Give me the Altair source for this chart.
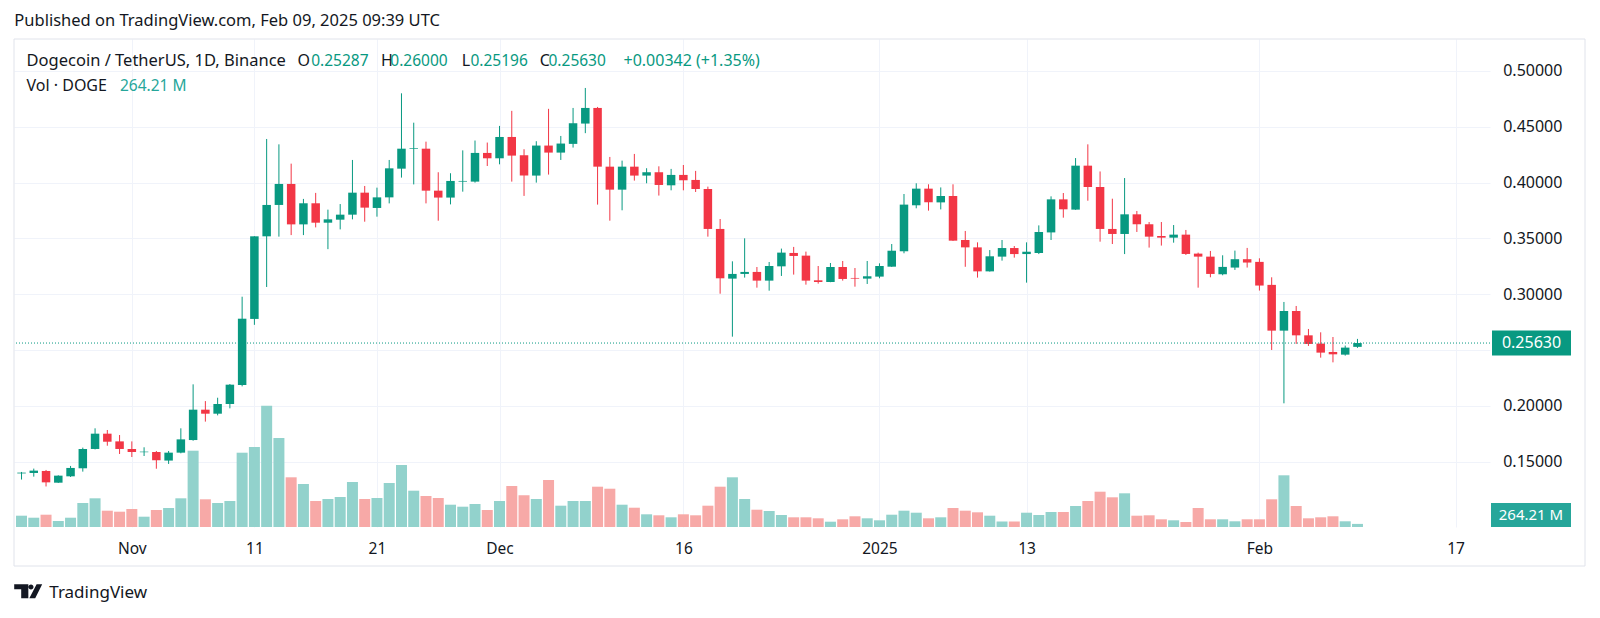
import altair as alt
import pandas as pd

FONT = "Noto Sans"
INK = "#131722"
UP = "#089981"
DOWN = "#f23645"
VOL_UP = "#92d2cc"
VOL_DOWN = "#f7a9a7"
GRID = "#f0f3fa"

dates = pd.date_range("2024-10-23", "2025-02-09", freq="D").strftime("%Y-%m-%d").tolist()

opens = [0.1395, 0.1399, 0.1417, 0.1312, 0.1369, 0.1441, 0.1614, 0.1751, 0.1682, 0.1614,
         0.1585, 0.1587, 0.1510, 0.1581, 0.1694, 0.1966, 0.1930, 0.2017, 0.2187, 0.2779,
         0.3519, 0.3800, 0.3988, 0.3626, 0.3815, 0.3641, 0.3668, 0.3713, 0.3910, 0.3773,
         0.3868, 0.4125, 0.4304, 0.4304, 0.3928, 0.3866, 0.4009, 0.4009, 0.4266, 0.4218,
         0.4409, 0.4245, 0.4063, 0.4332, 0.4269, 0.4347, 0.4529, 0.4669, 0.4143, 0.3937,
         0.4143, 0.4063, 0.4093, 0.3976, 0.4069, 0.4024, 0.3943, 0.3585, 0.3140, 0.3182,
         0.3200, 0.3122, 0.3250, 0.3370, 0.3346, 0.3125, 0.3110, 0.3244, 0.3146, 0.3140,
         0.3158, 0.3247, 0.3385, 0.3797, 0.3946, 0.3823, 0.3880, 0.3486, 0.3420, 0.3205,
         0.3337, 0.3414, 0.3360, 0.3369, 0.3554, 0.3850, 0.3758, 0.4152, 0.3961, 0.3585,
         0.3540, 0.3716, 0.3627, 0.3522, 0.3507, 0.3534, 0.3364, 0.3337, 0.3179, 0.3239,
         0.3314, 0.3290, 0.3084, 0.2674, 0.2850, 0.2632, 0.2558, 0.2483, 0.2459, 0.25287]

highs = [0.1408, 0.1438, 0.1426, 0.1378, 0.1462, 0.1626, 0.1799, 0.1784, 0.1739, 0.1682,
         0.1629, 0.1596, 0.1596, 0.1799, 0.2193, 0.2043, 0.2073, 0.2196, 0.2978, 0.3520,
         0.4391, 0.4343, 0.4170, 0.3854, 0.3908, 0.3758, 0.3808, 0.4203, 0.3970, 0.3955,
         0.4203, 0.4800, 0.4537, 0.4367, 0.4093, 0.4084, 0.4289, 0.4377, 0.4359, 0.4508,
         0.4643, 0.4299, 0.4371, 0.4661, 0.4418, 0.4669, 0.4848, 0.4678, 0.4230, 0.4197,
         0.4257, 0.4129, 0.4146, 0.4123, 0.4158, 0.4105, 0.3964, 0.3674, 0.3295, 0.3501,
         0.3244, 0.3289, 0.3409, 0.3424, 0.3382, 0.3253, 0.3280, 0.3298, 0.3235, 0.3298,
         0.3277, 0.3450, 0.3898, 0.3994, 0.3985, 0.3957, 0.3985, 0.3567, 0.3465, 0.3396,
         0.3486, 0.3432, 0.3465, 0.3617, 0.3877, 0.3907, 0.4220, 0.4343, 0.4100, 0.3856,
         0.4041, 0.3746, 0.3647, 0.3647, 0.3620, 0.3576, 0.3373, 0.3388, 0.3349, 0.3391,
         0.3415, 0.3322, 0.3152, 0.2931, 0.2895, 0.2689, 0.2659, 0.2617, 0.2540, 0.26000]

lows = [0.1340, 0.1366, 0.1278, 0.1310, 0.1363, 0.1411, 0.1610, 0.1643, 0.1569, 0.1542,
        0.1551, 0.1437, 0.1480, 0.1575, 0.1688, 0.1859, 0.1915, 0.1978, 0.2175, 0.2726,
        0.3065, 0.3516, 0.3530, 0.3530, 0.3599, 0.3404, 0.3581, 0.3671, 0.3650, 0.3695,
        0.3814, 0.4045, 0.3984, 0.3814, 0.3659, 0.3805, 0.3919, 0.4000, 0.4149, 0.4164,
        0.4009, 0.3881, 0.4000, 0.4072, 0.4203, 0.4314, 0.4443, 0.3803, 0.3659, 0.3752,
        0.4018, 0.3994, 0.3884, 0.3931, 0.3931, 0.3916, 0.3516, 0.3005, 0.2620, 0.3149,
        0.3059, 0.3032, 0.3164, 0.3176, 0.3086, 0.3095, 0.3108, 0.3122, 0.3068, 0.3092,
        0.3143, 0.3245, 0.3367, 0.3770, 0.3749, 0.3760, 0.3478, 0.3246, 0.3149, 0.3203,
        0.3301, 0.3328, 0.3104, 0.3360, 0.3486, 0.3686, 0.3756, 0.3838, 0.3471, 0.3450,
        0.3360, 0.3558, 0.3418, 0.3436, 0.3462, 0.3352, 0.3059, 0.3152, 0.3170, 0.3218,
        0.3239, 0.3033, 0.2501, 0.2023, 0.2555, 0.2537, 0.2432, 0.2390, 0.2450, 0.25196]

closes = [0.1402, 0.1420, 0.1315, 0.1375, 0.1444, 0.1614, 0.1751, 0.1679, 0.1614, 0.1587,
          0.1590, 0.1513, 0.1581, 0.1700, 0.1966, 0.1930, 0.2017, 0.2190, 0.2781, 0.3519,
          0.3800, 0.3988, 0.3626, 0.3815, 0.3641, 0.3671, 0.3713, 0.3910, 0.3776, 0.3868,
          0.4128, 0.4304, 0.4310, 0.3928, 0.3866, 0.4015, 0.4015, 0.4266, 0.4218, 0.4409,
          0.4242, 0.4063, 0.4332, 0.4269, 0.4350, 0.4532, 0.4669, 0.4143, 0.3937, 0.4143,
          0.4063, 0.4093, 0.3979, 0.4069, 0.4021, 0.3943, 0.3585, 0.3143, 0.3182, 0.3200,
          0.3122, 0.3253, 0.3373, 0.3343, 0.3122, 0.3110, 0.3244, 0.3137, 0.3140, 0.3161,
          0.3253, 0.3390, 0.3803, 0.3946, 0.3824, 0.3880, 0.3480, 0.3420, 0.3205, 0.3340,
          0.3414, 0.3360, 0.3381, 0.3557, 0.3850, 0.3761, 0.4152, 0.3961, 0.3585, 0.3540,
          0.3716, 0.3627, 0.3516, 0.3507, 0.3534, 0.3361, 0.3337, 0.3182, 0.3245, 0.3314,
          0.3284, 0.3078, 0.2674, 0.2850, 0.2632, 0.2555, 0.2477, 0.2462, 0.2522, 0.25630]

volumes_m = [963, 792, 1048, 511, 792, 2045, 2445, 1389, 1304, 1534,
             878, 1448, 1619, 2445, 6501, 2360, 2045, 2215, 6330, 6816,
             10335, 7583, 4234, 3664, 2215, 2386, 2556, 3834, 2386, 2471,
             3749, 5282, 3093, 2641, 2471, 1900, 1730, 1960, 1448, 2215,
             3493, 2701, 2386, 4004, 1815, 2215, 2215, 3434, 3263, 1900,
             1644, 1082, 997, 826, 1082, 997, 1815, 3434, 4234, 2386,
             1474, 1363, 1022, 826, 826, 741, 452, 656, 912, 741,
             571, 1048, 1389, 1218, 741, 826, 1619, 1389, 1252, 963,
             469, 469, 1218, 1022, 1278, 1278, 1789, 2215, 3008, 2530,
             2871, 963, 997, 656, 571, 426, 1619, 656, 656, 486,
             656, 656, 2360, 4405, 1789, 741, 826, 912, 486, 264.21]

tick_dates = ["2024-11-01", "2024-11-11", "2024-11-21", "2024-12-01", "2024-12-16",
              "2025-01-01", "2025-01-13", "2025-02-01", "2025-02-17"]
tick_labels = ["Nov", "11", "21", "Dec", "16", "2025", "13", "Feb", "17"]
price_ticks = [0.15, 0.20, 0.25, 0.30, 0.35, 0.40, 0.45, 0.50]

last_o, last_h, last_l, last_c = opens[-1], highs[-1], lows[-1], closes[-1]
change = 0.00342
change_pct = 1.35
last_vol = volumes_m[-1]

DAY = 86400000


def ms(d):
    return int(pd.Timestamp(d, tz="UTC").value // 10**6)


x_domain = [ms("2024-11-01") - 9.206 * DAY, ms("2024-11-01") + 110.405 * DAY]
price_domain = [0.0915, 0.52866]
vol_domain = [0, 41578]

W, H = 1476, 488

df = pd.DataFrame({"date": dates, "open": opens, "high": highs, "low": lows,
                   "close": closes, "volume": volumes_m})
one = pd.DataFrame({"k": [0]})

tick_ms = [ms(d) for d in tick_dates]
label_expr = " : ".join(f"time(datum.value) == {m} ? '{t}'" for m, t in zip(tick_ms, tick_labels)) + " : ''"

x_axis = alt.Axis(values=tick_ms, labelExpr=label_expr, grid=True, gridColor=GRID, gridWidth=1,
                  domain=False, ticks=False, tickSize=0, labelPadding=21, labelBaseline="middle",
                  labelFont=FONT, labelFontSize=15.5, labelColor=INK, labelFlush=False,
                  labelOverlap=False, title=None)
x_enc = alt.X("date:T", scale=alt.Scale(type="utc", domain=x_domain, nice=False), axis=x_axis)

y_axis = alt.Axis(orient="right", values=price_ticks,
                  labelExpr="abs(datum.value - 0.25) < 1e-9 ? '' : format(datum.value, '.5f')",
                  grid=True, gridColor=GRID, gridWidth=1, domain=False, ticks=False, tickSize=0,
                  labelPadding=12.7, labelFont=FONT, labelFontSize=16, labelColor=INK,
                  labelBaseline="middle", labelOverlap=False, labelFlush=False, title=None)
p_scale = alt.Scale(domain=price_domain, zero=False, nice=False)

up_cond = "datum.close >= datum.open"

vol = alt.Chart(df).mark_bar(size=11).encode(
    x=x_enc,
    y=alt.Y("volume:Q", scale=alt.Scale(domain=vol_domain, nice=False, zero=True), axis=None),
    color=alt.condition(up_cond, alt.value(VOL_UP), alt.value(VOL_DOWN)),
)

wick = alt.Chart(df).mark_rule(strokeWidth=1).encode(
    x=x_enc,
    y=alt.Y("low:Q", scale=p_scale, axis=y_axis),
    y2="high:Q",
    color=alt.condition(up_cond, alt.value(UP), alt.value(DOWN)),
)

body = alt.Chart(df).mark_bar(size=8.5).encode(
    x=x_enc,
    y=alt.Y("open:Q", scale=p_scale, axis=y_axis),
    y2="close:Q",
    color=alt.condition(up_cond, alt.value(UP), alt.value(DOWN)),
)

pline = alt.Chart(one).mark_rule(strokeDash=[1, 2], strokeWidth=1, color=UP).encode(
    y=alt.YDatum(last_c, type="quantitative", scale=p_scale)
)
pbox = alt.Chart(one).mark_rect(color=UP, yOffset=-12.5, y2Offset=12.5).encode(
    x=alt.value(W + 2), x2=alt.value(W + 81),
    y=alt.YDatum(last_c, type="quantitative", scale=p_scale),
    y2=alt.Y2Datum(last_c),
)
ptext = alt.Chart(one).mark_text(color="white", font=FONT, fontSize=16, align="center",
                                 baseline="middle", text=f"{last_c:.5f}").encode(
    x=alt.value(W + 41.5),
    y=alt.YDatum(last_c, type="quantitative", scale=p_scale),
)

price = alt.layer(wick, body, pline, pbox, ptext)


def label(txt, x, y, color=INK, size=16, align="left", baseline="middle", weight="normal"):
    return alt.Chart(one).mark_text(text=txt, align=align, baseline=baseline, font=FONT,
                                    fontSize=size, color=color, fontWeight=weight).encode(
        x=alt.value(x), y=alt.value(y))


frame = alt.Chart(one).mark_rect(fillOpacity=0, stroke="#e0e3eb", strokeWidth=1).encode(
    x=alt.value(0), x2=alt.value(1571), y=alt.value(0), y2=alt.value(527))

vbox = alt.Chart(one).mark_rect(color="#26a69a").encode(
    x=alt.value(W + 1), x2=alt.value(W + 81), y=alt.value(H - 24), y2=alt.value(H))

texts = [
    label("Published on TradingView.com, Feb 09, 2025 09:39 UTC", 0.3, -18.5, size=16.5),
    label("Dogecoin / TetherUS, 1D, Binance", 12.5, 22, size=16.5),
    label("O", 283.4, 22), label(f"{last_o:.5f}", 297.2, 22, UP, 15.5),
    label("H", 367.1, 22), label(f"{last_h:.5f}", 376.3, 22, UP, 15.5),
    label("L", 447.7, 22), label(f"{last_l:.5f}", 456.4, 22, UP, 15.5),
    label("C", 525.8, 22), label(f"{last_c:.5f}", 534.5, 22, UP, 15.5),
    label(f"+{change:.5f} (+{change_pct:.2f}%)", 609.5, 22, UP, 16),
    label("Vol · DOGE", 12.5, 46.5),
    label(f"{last_vol:.2f} M", 105.9, 46.5, "#26a69a", 15.5),
    label(f"{last_vol:.2f} M", W + 41, H - 12, "white", 15, "center"),
    label("TradingView", 35.3, 559.3, INK, 17, "left", "alphabetic"),
]

logo_path = ("M -1 -0.5 L 0.01 -0.5 L 0.01 0.5 L -0.5 0.5 L -0.5 -0.14 L -1 -0.14 Z "
             "M 0.08 0.5 L 0.6 -0.5 L 1 -0.5 L 0.5 0.5 Z "
             "M 0.02 -0.3 A 0.18 0.18 0 1 0 0.38 -0.3 A 0.18 0.18 0 1 0 0.02 -0.3 Z")
logo = alt.Chart(one).mark_point(shape=logo_path, size=784, filled=True, color=INK,
                                 strokeWidth=0, opacity=1).encode(
    x=alt.value(14.2), y=alt.value(552.3))

chart = alt.layer(vol, price, frame, vbox, logo, *texts).resolve_scale(
    y="independent"
).properties(
    width=W, height=H,
    padding={"left": 6, "top": 31, "right": 100, "bottom": 80},
    autosize=alt.AutoSizeParams(type="none"),
    background="white",
).configure_view(strokeWidth=0)

chart.save("out.html", embed_options={"renderer": "svg", "actions": False})
